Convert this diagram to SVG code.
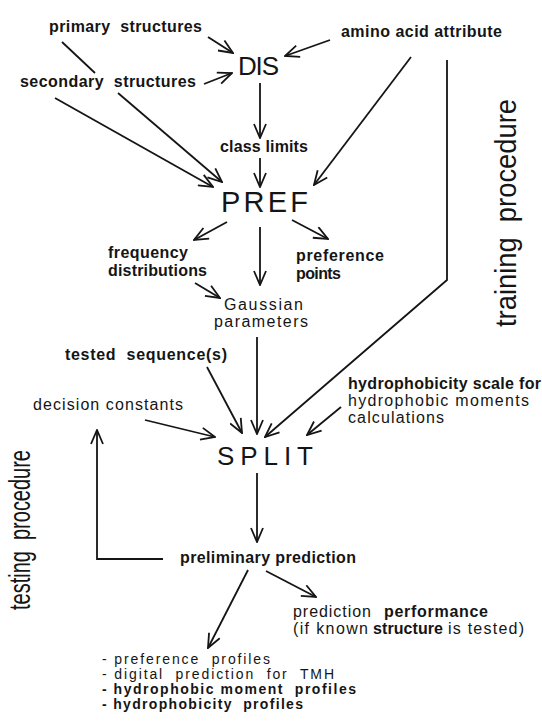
<svg xmlns="http://www.w3.org/2000/svg" width="542" height="726" viewBox="0 0 542 726">
<defs>
<style>
text{font-family:"Liberation Sans",Arial,sans-serif;fill:#151515;}
.l{font-size:16px;}
.s{font-size:14px;}
.b{font-weight:bold;}
.big{font-size:26px;}
.side{font-size:29px;}
.c{fill:none;stroke:#151515;stroke-width:1.8;}
.a{marker-end:url(#ah);}
</style>
<marker id="ah" markerUnits="userSpaceOnUse" viewBox="0 0 16 14" refX="15" refY="7" markerWidth="16" markerHeight="14" orient="auto">
<path d="M1,1 L15,7 L1,13" fill="none" stroke="#151515" stroke-width="1.8"/>
</marker>
</defs>
<rect width="542" height="726" fill="#fff"/>

<g id="connectors">
<line class="c a" x1="208" y1="37" x2="233" y2="53"/>
<line class="c a" x1="204" y1="84" x2="232" y2="73"/>
<line class="c a" x1="330" y1="40" x2="285" y2="56"/>
<line class="c a" x1="260" y1="83" x2="260" y2="138"/>
<line class="c" x1="62" y1="42" x2="95" y2="73"/>
<line class="c a" x1="118" y1="93" x2="222" y2="182"/>
<line class="c a" x1="55" y1="98" x2="213" y2="187"/>
<line class="c a" x1="260" y1="158" x2="260" y2="187"/>
<line class="c a" x1="411" y1="57" x2="314" y2="185"/>
<line class="c a" x1="227" y1="222" x2="194" y2="240"/>
<line class="c a" x1="292" y1="220" x2="328" y2="239"/>
<line class="c a" x1="260" y1="227" x2="260" y2="285"/>
<line class="c a" x1="195" y1="283" x2="220" y2="298"/>
<line class="c a" x1="257" y1="337" x2="257" y2="434"/>
<line class="c a" x1="207" y1="367" x2="242" y2="433"/>
<line class="c a" x1="145" y1="420" x2="215" y2="437"/>
<polyline class="c a" points="447,60 447,280 265,437"/>
<line class="c a" x1="341" y1="407" x2="307" y2="435"/>
<line class="c a" x1="257" y1="473" x2="257" y2="542"/>
<polyline class="c a" points="163,559 97,559 97,430"/>
<line class="c a" x1="248" y1="570" x2="208" y2="648"/>
<line class="c a" x1="266" y1="571" x2="316" y2="597"/>
</g>

<g id="primary"><text class="l b" x="49" y="32" textLength="153" xml:space="preserve">primary  structures</text></g>
<g id="secondary"><text class="l b" x="20" y="87" textLength="176" xml:space="preserve">secondary  structures</text></g>
<g id="dis"><text class="big" x="238" y="75" textLength="41">DIS</text></g>
<g id="amino"><text class="l b" x="341" y="37" textLength="161">amino acid attribute</text></g>
<g id="classlimits"><text class="l b" x="220" y="152" textLength="88">class limits</text></g>
<g id="pref"><text class="side" x="221" y="212" textLength="87">PREF</text></g>
<g id="freq">
<text class="l b" x="108" y="258" textLength="80">frequency</text>
<text class="l b" x="108" y="276" textLength="99">distributions</text>
</g>
<g id="prefpoints">
<text class="l b" x="296" y="261" textLength="88">preference</text>
<text class="l b" x="296" y="279" textLength="45">points</text>
</g>
<g id="gauss">
<text class="l" x="224" y="310" textLength="79">Gaussian</text>
<text class="l" x="214" y="327" textLength="94">parameters</text>
</g>
<g id="tested"><text class="l b" x="65" y="360" textLength="162" xml:space="preserve">tested  sequence(s)</text></g>
<g id="decision"><text class="l" x="33" y="410" textLength="150">decision constants</text></g>
<g id="hydro">
<text class="l b" x="348" y="389" textLength="193">hydrophobicity scale for</text>
<text class="l" x="348" y="406" textLength="181">hydrophobic moments</text>
<text class="l" x="348" y="423" textLength="96">calculations</text>
</g>
<g id="split"><text class="big" x="217" y="465" textLength="96">SPLIT</text></g>
<g id="prelim"><text class="l b" x="180" y="563" textLength="176">preliminary prediction</text></g>
<g id="perf">
<text class="l" x="293" y="617" textLength="78">prediction</text>
<text class="l b" x="384" y="617" textLength="104">performance</text>
<text class="l" x="293" y="634" textLength="75">(if known</text>
<text class="l b" x="373" y="634" textLength="70">structure</text>
<text class="l" x="448" y="634" textLength="76">is tested)</text>
</g>
<g id="outputs">
<text class="s" x="102" y="664" textLength="168" xml:space="preserve">- preference  profiles</text>
<text class="s" x="102" y="679" textLength="232" xml:space="preserve">- digital  prediction  for  TMH</text>
<text class="s b" x="102" y="694" textLength="254" xml:space="preserve">- hydrophobic moment  profiles</text>
<text class="s b" x="102" y="709" textLength="201" xml:space="preserve">- hydrophobicity  profiles</text>
</g>
<g id="training"><text class="side" transform="translate(516,327) rotate(-90)" x="0" y="0" textLength="228" lengthAdjust="spacingAndGlyphs" xml:space="preserve">training  procedure</text></g>
<g id="testing"><text class="side" transform="translate(30,610) rotate(-90)" x="0" y="0" textLength="160" lengthAdjust="spacingAndGlyphs" xml:space="preserve">testing  procedure</text></g>
</svg>
